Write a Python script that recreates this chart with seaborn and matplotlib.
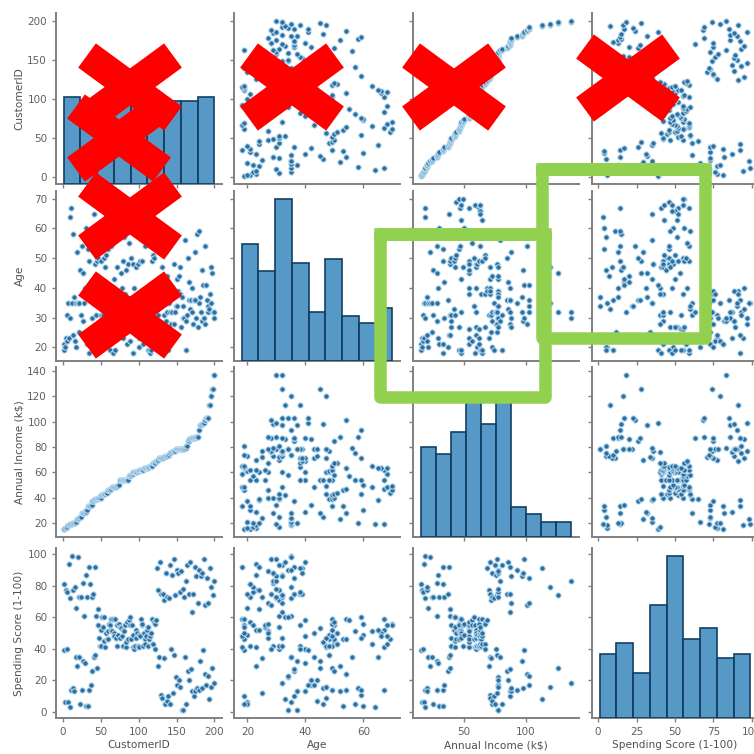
import matplotlib
matplotlib.use("Agg")
import matplotlib.pyplot as plt
from matplotlib.lines import Line2D
import pandas as pd
import seaborn as sns

# ---------- data ----------
customer_id = [
    1, 2, 3, 4, 5, 6, 7, 8, 9, 10, 11, 12, 13, 14, 15, 16, 17, 18, 19, 20,
    21, 22, 23, 24, 25, 26, 27, 28, 29, 30, 31, 32, 33, 34, 35, 36, 37, 38, 39, 40,
    41, 42, 43, 44, 45, 46, 47, 48, 49, 50, 51, 52, 53, 54, 55, 56, 57, 58, 59, 60,
    61, 62, 63, 64, 65, 66, 67, 68, 69, 70, 71, 72, 73, 74, 75, 76, 77, 78, 79, 80,
    81, 82, 83, 84, 85, 86, 87, 88, 89, 90, 91, 92, 93, 94, 95, 96, 97, 98, 99, 100,
    101, 102, 103, 104, 105, 106, 107, 108, 109, 110, 111, 112, 113, 114, 115, 116, 117, 118, 119, 120,
    121, 122, 123, 124, 125, 126, 127, 128, 129, 130, 131, 132, 133, 134, 135, 136, 137, 138, 139, 140,
    141, 142, 143, 144, 145, 146, 147, 148, 149, 150, 151, 152, 153, 154, 155, 156, 157, 158, 159, 160,
    161, 162, 163, 164, 165, 166, 167, 168, 169, 170, 171, 172, 173, 174, 175, 176, 177, 178, 179, 180,
    181, 182, 183, 184, 185, 186, 187, 188, 189, 190, 191, 192, 193, 194, 195, 196, 197, 198, 199, 200,
]
age = [
    19, 21, 20, 23, 31, 22, 35, 23, 64, 30, 67, 35, 58, 24, 37, 22, 35, 20, 52, 35,
    35, 25, 46, 31, 54, 29, 45, 35, 40, 23, 60, 21, 53, 18, 49, 21, 42, 30, 36, 20,
    65, 24, 48, 31, 49, 24, 50, 27, 29, 31, 49, 33, 31, 59, 50, 47, 51, 69, 27, 53,
    70, 19, 67, 54, 63, 18, 43, 68, 19, 32, 70, 47, 60, 60, 59, 26, 45, 40, 23, 49,
    57, 38, 67, 46, 21, 48, 55, 22, 34, 50, 68, 18, 48, 40, 32, 24, 47, 27, 48, 20,
    23, 49, 67, 26, 49, 21, 66, 54, 68, 66, 65, 19, 38, 19, 18, 19, 63, 49, 51, 50,
    27, 38, 40, 39, 23, 31, 43, 40, 59, 38, 47, 39, 25, 31, 20, 29, 44, 32, 19, 35,
    57, 32, 28, 32, 25, 28, 48, 32, 34, 34, 43, 39, 44, 38, 47, 27, 37, 30, 34, 30,
    56, 29, 19, 31, 50, 36, 42, 33, 36, 32, 40, 28, 36, 36, 52, 30, 58, 27, 59, 35,
    37, 32, 46, 29, 41, 30, 54, 28, 41, 36, 34, 32, 33, 38, 47, 35, 45, 32, 32, 30,
]
income = [
    15, 15, 16, 16, 17, 17, 18, 18, 19, 19, 19, 19, 20, 20, 20, 20, 21, 21, 23, 23,
    24, 24, 25, 25, 28, 28, 28, 28, 29, 29, 30, 30, 33, 33, 33, 33, 34, 34, 37, 37,
    38, 38, 39, 39, 39, 39, 40, 40, 40, 40, 42, 42, 43, 43, 43, 43, 44, 44, 46, 46,
    46, 46, 47, 47, 48, 48, 48, 48, 48, 48, 49, 49, 50, 50, 54, 54, 54, 54, 54, 54,
    54, 54, 54, 54, 54, 54, 57, 57, 58, 58, 59, 59, 60, 60, 60, 60, 60, 60, 61, 61,
    62, 62, 62, 62, 62, 62, 63, 63, 63, 63, 63, 63, 64, 64, 65, 65, 65, 65, 67, 67,
    67, 67, 69, 69, 70, 70, 71, 71, 71, 71, 71, 71, 72, 72, 73, 73, 73, 73, 74, 74,
    75, 75, 76, 76, 77, 77, 77, 77, 78, 78, 78, 78, 78, 78, 78, 78, 78, 78, 78, 78,
    79, 79, 81, 81, 85, 85, 86, 86, 87, 87, 87, 87, 87, 87, 88, 88, 88, 88, 93, 93,
    97, 97, 98, 98, 99, 99, 101, 101, 103, 103, 103, 103, 113, 113, 120, 120, 126, 126, 137, 137,
]
score = [
    39, 81, 6, 77, 40, 76, 6, 94, 3, 72, 14, 99, 15, 77, 13, 79, 35, 66, 29, 98,
    35, 73, 5, 73, 14, 82, 32, 61, 31, 87, 4, 73, 4, 92, 14, 81, 17, 73, 26, 75,
    35, 92, 36, 61, 28, 65, 55, 47, 42, 42, 52, 60, 54, 60, 45, 41, 50, 46, 51, 46,
    56, 55, 52, 59, 51, 59, 50, 48, 59, 47, 55, 42, 49, 56, 47, 54, 53, 48, 52, 42,
    51, 55, 41, 44, 57, 46, 58, 55, 60, 46, 55, 41, 49, 40, 42, 52, 47, 50, 42, 49,
    41, 48, 59, 55, 56, 42, 50, 46, 43, 48, 52, 54, 42, 46, 48, 50, 43, 59, 43, 57,
    56, 40, 58, 91, 29, 77, 35, 95, 11, 75, 9, 75, 34, 71, 5, 88, 7, 73, 10, 72,
    5, 93, 40, 87, 12, 97, 36, 74, 22, 90, 17, 88, 20, 76, 16, 89, 1, 78, 1, 73,
    35, 83, 5, 93, 26, 75, 20, 95, 27, 63, 13, 75, 10, 92, 13, 86, 15, 69, 14, 90,
    32, 86, 15, 88, 39, 97, 24, 68, 17, 85, 23, 69, 8, 91, 16, 79, 28, 74, 18, 83,
]
columns = ["CustomerID", "Age", "Annual Income (k$)", "Spending Score (1-100)"]

df = pd.DataFrame(dict(zip(columns, [customer_id, age, income, score])))

# ---------- pairplot ----------
W = 754
sns.set_context("paper")
plt.rcParams["axes.edgecolor"] = "#808080"
plt.rcParams["xtick.color"] = "#808080"
plt.rcParams["ytick.color"] = "#808080"
plt.rcParams["xtick.labelcolor"] = "#606060"
plt.rcParams["ytick.labelcolor"] = "#606060"
plt.rcParams["axes.labelcolor"] = "#505050"

g = sns.pairplot(df, height=W / 400,
                 plot_kws={"s": 15, "color": "#2f6f9f", "edgecolor": "#bfe0f5", "linewidth": 0.7},
                 diag_kws={"color": "#1f77b4", "edgecolor": "#123f63", "linewidth": 1.2})
g.figure.set_size_inches(W / 100, W / 100)

lefts = [56, 234, 413, 592]
tops = [13, 191, 367, 548]
bottoms = [184, 361, 537, 718]
cell_w = 166
for r in range(4):
    for c in range(4):
        pos = [lefts[c] / W, 1 - bottoms[r] / W, cell_w / W, (bottoms[r] - tops[r]) / W]
        ax = g.axes[r, c]
        ax.set_position(pos)
        ax.tick_params(labelsize=7.5, length=3, width=1)
        ax.xaxis.label.set_size(7.6)
        ax.yaxis.label.set_size(7.6)
        for s in ax.spines.values():
            s.set_linewidth(1.4)

# the diagonal histograms keep their own count scale: tallest bar height in pixels
tallest_px = [88, 162, 137, 162]
for i, ax in enumerate(g.diag_axes):
    ax.set_position(g.axes[i, i].get_position())
    top = max(p.get_height() for p in ax.patches)
    ax.set_ylim(0, top * (bottoms[i] - tops[i]) / tallest_px[i])

for ax in g.axes[:, 0]:
    ax.yaxis.set_label_coords(-0.19, 0.5)
for ax in g.axes[-1, :]:
    ax.xaxis.set_label_coords(0.5, -0.13)


# ---------- overlays, in picture pixels ----------
def to_fig(points):
    xs = [p[0] / W for p in points]
    ys = [1 - p[1] / W for p in points]
    return xs, ys


def red_cross(cx, cy):
    for dy in (-31.5, 31.5):
        xs, ys = to_fig([(cx - 43, cy + dy), (cx + 43, cy - dy)])
        g.figure.add_artist(Line2D(xs, ys, color="#ff0000", lw=21.6,
                                   solid_capstyle="butt", zorder=10))


def green_box(x0, y0, x1, y1):
    xs, ys = to_fig([(x0, y0), (x1, y0), (x1, y1), (x0, y1), (x0, y0), (x1, y0)])
    g.figure.add_artist(Line2D(xs, ys, color="#92d050", lw=9,
                               solid_joinstyle="round", zorder=11))


for cx, cy in [(130, 87), (119, 138), (130, 216), (130, 315),
               (292, 87), (454, 87), (628, 78)]:
    red_cross(cx, cy)

green_box(380, 234, 545, 397)
green_box(542, 169, 705, 338)

g.figure.savefig("out.png", dpi=100)
